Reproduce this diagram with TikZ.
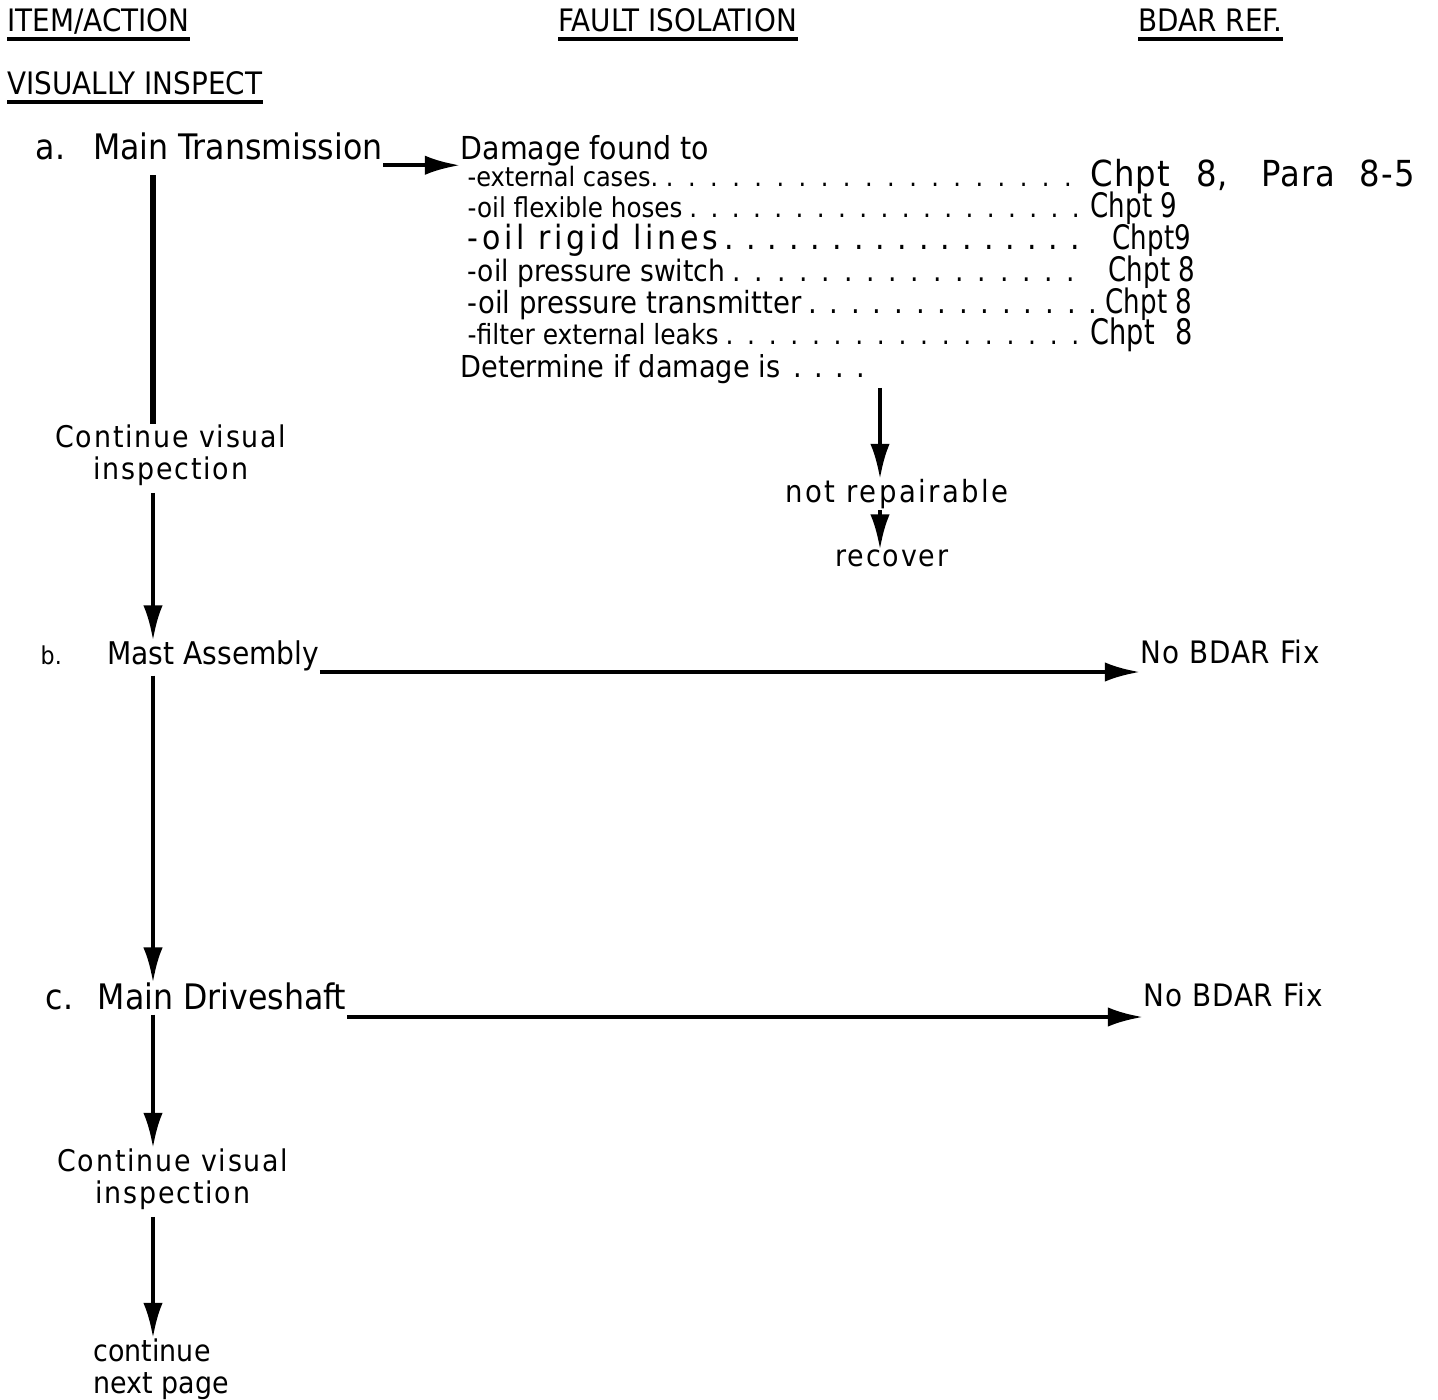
\documentclass[tikz,border=0pt]{standalone}
\usepackage{fontspec}
\setmainfont{DejaVu Sans Condensed}
\newfontfamily\tallfont{DejaVu Sans Condensed}[FakeStretch=0.86]
\usetikzlibrary{arrows.meta, positioning}

% dotted leader row of a fixed width
\newcommand{\leaderrow}[2]{\hbox to #2{#1\xleaders\hbox to 6pt{\hss.\hss}\hfill}}
\newcommand{\spaced}[1]{\addfontfeature{LetterSpace=#1}}

\begin{document}
\begin{tikzpicture}[
  x=0.1mm, y=-0.1mm,
  txt/.style={inner sep=0pt, anchor=base west, font=\fontsize{10}{11}\selectfont},
  head/.style={txt, font=\fontsize{8.8}{10}\selectfont},
  item/.style={txt, font=\fontsize{#1}{10}\selectfont},
  ref/.style={txt, font=\fontsize{#1}{11}\tallfont},
  label/.style={txt, font=\fontsize{8.5}{9.5}\selectfont\spaced{6}},
  twoline/.style={inner sep=0pt, anchor=north, align=center, font=\fontsize{8.5}{9}\selectfont\spaced{6}},
  arr/.style={line width=1.2pt, -{Latex[length=10pt, width=5.5pt]}},
  spine/.style={line width=1.5pt}
]
  \useasboundingbox (0,0) rectangle (1438,1400);
  \coordinate (col) at (153,0);

  % column headings
  \node[head] (hdItem) at (7,32) {ITEM/ACTION};
  \node[head] (hdFault) at (558,32) {FAULT ISOLATION};
  \node[head] (hdRef) at (1138,32) {BDAR REF.};
  \node[head] (vis) at (7,95) {VISUALLY INSPECT};
  \foreach \h in {hdItem, hdFault, hdRef, vis}
    \draw[line width=0.9pt] ([yshift=-2pt]\h.base west) -- ([yshift=-2pt]\h.base east);

  % item a
  \node[txt] (itemA) at (35,160) {a.\hspace{8pt}Main Transmission};
  \node[item=9] (dmg) at (460,160) {Damage found to};
  \node[item=7.6] (iCase) at (467,187) {\leaderrow{-external cases.}{174pt}};
  \node[item=7.8] (iHose) at (467,218) {\leaderrow{-oil flexible hoses}{176pt}};
  \node[item=9.5] (iRigid) at (467,250) {\leaderrow{\spaced{11}-oil rigid lines}{176pt}};
  \node[item=8.4] (iSwitch) at (467,282) {\leaderrow{-oil pressure switch}{175pt}};
  \node[item=8.7] (iTrans) at (467,314) {\leaderrow{-oil pressure transmitter}{181pt}};
  \node[item=7.9] (iFilter) at (467,345) {\leaderrow{-filter external leaks}{176pt}};
  \node[item=8.6] (determ) at (460,378) {\leaderrow{Determine if damage is\hspace{2pt}}{117pt}};

  \node[txt, font=\fontsize{10.2}{11}\selectfont\spaced{3}] (rCase) at (1090,187)
    {Chpt\hspace{7.5pt}8,\hspace{9.5pt}Para\hspace{7pt}8-5};
  \node[ref=9.6] (rHose) at (1090,218) {Chpt 9};
  \node[ref=9.6] (rRigid) at (1112,250) {Chpt9};
  \node[ref=9.6] (rSwitch) at (1108,282) {Chpt 8};
  \node[ref=9.6] (rTrans) at (1105,314) {Chpt 8};
  \node[ref=10] (rFilter) at (1090,345) {Chpt\hspace{6pt}8};

  \node[label, font=\fontsize{8.7}{9.5}\selectfont\spaced{8}] (notrep) at (785,503) {not repairable};
  \node[label] (recover) at (835,567) {recover};

  \draw[arr] ([yshift=-1.5pt]itemA.base east) -- ([yshift=-1.5pt]dmg.base west);
  \draw[arr] (880,388) -- (notrep.north -| 880,0);
  \draw[arr] ([yshift=-2pt]notrep.base -| 880,0) -- (recover.north -| 880,0);

  % left spine
  \node[twoline] (cont1) at (171,424) {Continue visual\\inspection};
  \node[txt] (itemB) at (40,665) {{\fontsize{7}{8}\selectfont b.}\hspace{13pt}\fontsize{8.9}{10}\selectfont Mast Assembly};
  \node[label, font=\fontsize{8.8}{9.5}\selectfont\spaced{3}] (fixB) at (1140,664) {No BDAR Fix};
  \node[txt] (itemC) at (45,1010) {c.\hspace{7pt}Main Driveshaft};
  \node[label, font=\fontsize{8.8}{9.5}\selectfont\spaced{3}] (fixC) at (1143,1007) {No BDAR Fix};
  \node[twoline] (cont2) at (173,1148) {Continue visual\\inspection};
  \node[twoline, anchor=north west, align=left, font=\fontsize{8.5}{9}\selectfont] (nextpg) at (93,1338) {continue\\next page};

  \draw[spine] ([yshift=-4pt]itemA.south -| col) -- (cont1.north -| col);
  \draw[arr] ([yshift=-2pt]cont1.south -| col) -- (itemB.north -| col);
  \draw[arr] ([yshift=-1pt]itemB.south -| col) -- (itemC.north -| col);
  \draw[arr] ([yshift=-1pt]itemC.south -| col) -- (cont2.north -| col);
  \draw[arr] ([yshift=-2pt]cont2.south -| col) -- (nextpg.north -| col);

  \draw[arr] ([yshift=-2pt]itemB.base east) -- ([yshift=-2pt]itemB.base east -| fixB.west);
  \draw[arr] ([yshift=-2pt]itemC.base east) -- ([yshift=-2pt]itemC.base east -| fixC.west);
\end{tikzpicture}
\end{document}
